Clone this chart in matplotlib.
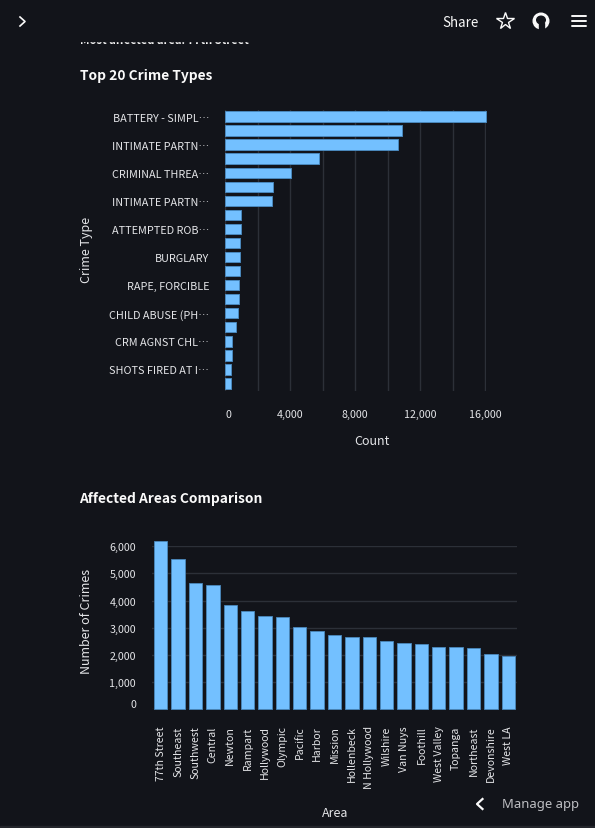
import matplotlib
matplotlib.use("Agg")
import matplotlib.pyplot as plt
from matplotlib.patches import Rectangle, Circle, Ellipse
from matplotlib.ticker import FuncFormatter

crime_labels = ["BATTERY - SIMPL…", "", "INTIMATE PARTN…", "", "CRIMINAL THREA…", "", "INTIMATE PARTN…", "",
                "ATTEMPTED ROB…", "", "BURGLARY", "", "RAPE, FORCIBLE", "", "CHILD ABUSE (PH…", "",
                "CRM AGNST CHL…", "", "SHOTS FIRED AT I…", ""]
crime_counts = [16050, 10900, 10630, 5750, 4030, 2945, 2860, 1000, 960, 940,
                920, 920, 860, 840, 820, 655, 430, 430, 390, 350]
count_ticks = [0, 2000, 4000, 6000, 8000, 10000, 12000, 14000, 16000]

areas = ["77th Street", "Southeast", "Southwest", "Central", "Newton", "Rampart", "Hollywood",
         "Olympic", "Pacific", "Harbor", "Mission", "Hollenbeck", "N Hollywood", "Wilshire",
         "Van Nuys", "Foothill", "West Valley", "Topanga", "Northeast", "Devonshire", "West LA"]
area_counts = [6195, 5520, 4650, 4575, 3840, 3620, 3450, 3385, 3020, 2870, 2735,
               2675, 2650, 2530, 2430, 2405, 2295, 2280, 2245, 2035, 1965]
area_ticks = [0, 1000, 2000, 3000, 4000, 5000, 6000]

BG = "#12141a"
FILL = "#73c0ff"
EDGE = "#4a88bd"
GRID = "#2c3038"
TXT = "#e4e5e8"
WHITE = "#fafafa"
W, H = 595, 829

plt.rcParams["font.family"] = ["Noto Sans CJK SC", "DejaVu Sans"]
fig = plt.figure(figsize=(W / 100, H / 100), dpi=100, facecolor=BG)

def axes_px(l, t, r, b):
    return fig.add_axes([l / W, 1 - b / H, (r - l) / W, (b - t) / H], facecolor="none")

comma = FuncFormatter(lambda v, _: f"{int(v):,}")

# horizontal bars
ax1 = axes_px(225, 110.5, 486, 391.5)
ax1.barh(range(len(crime_counts)), crime_counts, height=0.74, color=FILL, edgecolor=EDGE, linewidth=0.7, zorder=3, clip_on=False)
ax1.set_ylim(len(crime_counts) - 0.5, -0.5)
ax1.set_xlim(0, 16050)
ax1.set_xticks(count_ticks)
ax1.xaxis.set_major_formatter(FuncFormatter(lambda v, _: f"{int(v):,}" if v % 4000 == 0 else ""))
ax1.grid(axis="x", color=GRID, linewidth=1, zorder=0)
ax1.set_yticks(range(len(crime_labels)))
ax1.set_yticklabels(crime_labels)
ax1.tick_params(axis="y", length=0, pad=11.5, labelsize=7.8, labelcolor=TXT)
ax1.tick_params(axis="x", length=0, pad=13, labelsize=7.7, labelcolor=TXT)
ax1.get_xticklabels()[0].set_ha("left")
for s in ax1.spines.values():
    s.set_visible(False)

# vertical bars
ax2 = axes_px(152, 547.3, 517, 710.3)
ax2.bar(range(len(area_counts)), area_counts, width=0.77, color=FILL, edgecolor=EDGE, linewidth=0.6, zorder=3, clip_on=False)
ax2.set_xlim(-0.5, len(area_counts) - 0.5)
ax2.set_ylim(0, 6000)
ax2.set_yticks(area_ticks)
ax2.yaxis.set_major_formatter(comma)
ax2.grid(axis="y", color=GRID, linewidth=1, zorder=0)
ax2.set_xticks(range(len(areas)))
ax2.set_xticklabels(areas, rotation=90, ha="center", va="top")
ax2.tick_params(axis="x", length=0, pad=11.5, labelsize=7.6, labelcolor=TXT)
ax2.tick_params(axis="y", length=0, pad=11.5, labelsize=7.7, labelcolor=TXT)
ax2.get_yticklabels()[0].set_va("bottom")
for s in ax2.spines.values():
    s.set_visible(False)

# page furniture in pixel coordinates
ov = fig.add_axes([0, 0, 1, 1], facecolor="none", zorder=5)
ov.set_xlim(0, W)
ov.set_ylim(H, 0)
ov.axis("off")

ov.text(80, 44.3, "Most affected area: 77th Street", color=WHITE, fontsize=8.0, fontweight="bold", va="baseline", zorder=1)
ov.add_patch(Rectangle((0, 0), W, 42.3, color=BG, zorder=2))
ov.add_patch(Rectangle((0, 826.5), W, 3, color="#24262c", zorder=2))

ov.text(80, 76, "Top 20 Crime Types", color=WHITE, fontsize=9.9, fontweight="bold", va="center", zorder=3)
ov.text(79, 498.5, "Affected Areas Comparison", color=WHITE, fontsize=9.9, fontweight="bold", va="center", zorder=3)
ov.text(86.5, 250, "Crime Type", color=TXT, fontsize=9, rotation=90, ha="center", va="center", zorder=3)
ov.text(372, 441.5, "Count", color=TXT, fontsize=9, ha="center", va="center", zorder=3)
ov.text(86.5, 621.5, "Number of Crimes", color=TXT, fontsize=9, rotation=90, ha="center", va="center", zorder=3)
ov.text(335, 814, "Area", color=TXT, fontsize=9, ha="center", va="center", zorder=3)

ov.text(460, 22.5, "Share", color=WHITE, fontsize=9.6, ha="center", va="center", zorder=3)
ov.text(540, 804.5, "Manage app", color="#bdbec2", fontfamily="Noto Sans", fontsize=9.4, ha="center", va="center", zorder=3)

ov.plot([20, 25, 20], [18, 22.5, 27], color=WHITE, lw=1.2, zorder=3)
ov.plot([482.5, 477, 482.5], [800, 805, 810], color=WHITE, lw=1.6, zorder=3)
ov.plot([505], [22], marker="*", ms=13, mfc="none", mec=WHITE, mew=1.0, zorder=3)
ov.add_patch(Circle((541, 22), 7.8, color=WHITE, zorder=3))
ov.add_patch(Ellipse((541, 21), 8.6, 7.6, color=BG, zorder=4))
ov.add_patch(Rectangle((538.5, 24), 5, 6.5, color=BG, zorder=4))
for y in (17, 22, 27):
    ov.plot([572, 586], [y, y], color=WHITE, lw=1.4, zorder=3, solid_capstyle="round")

fig.savefig("out.png", dpi=100, facecolor=BG)
